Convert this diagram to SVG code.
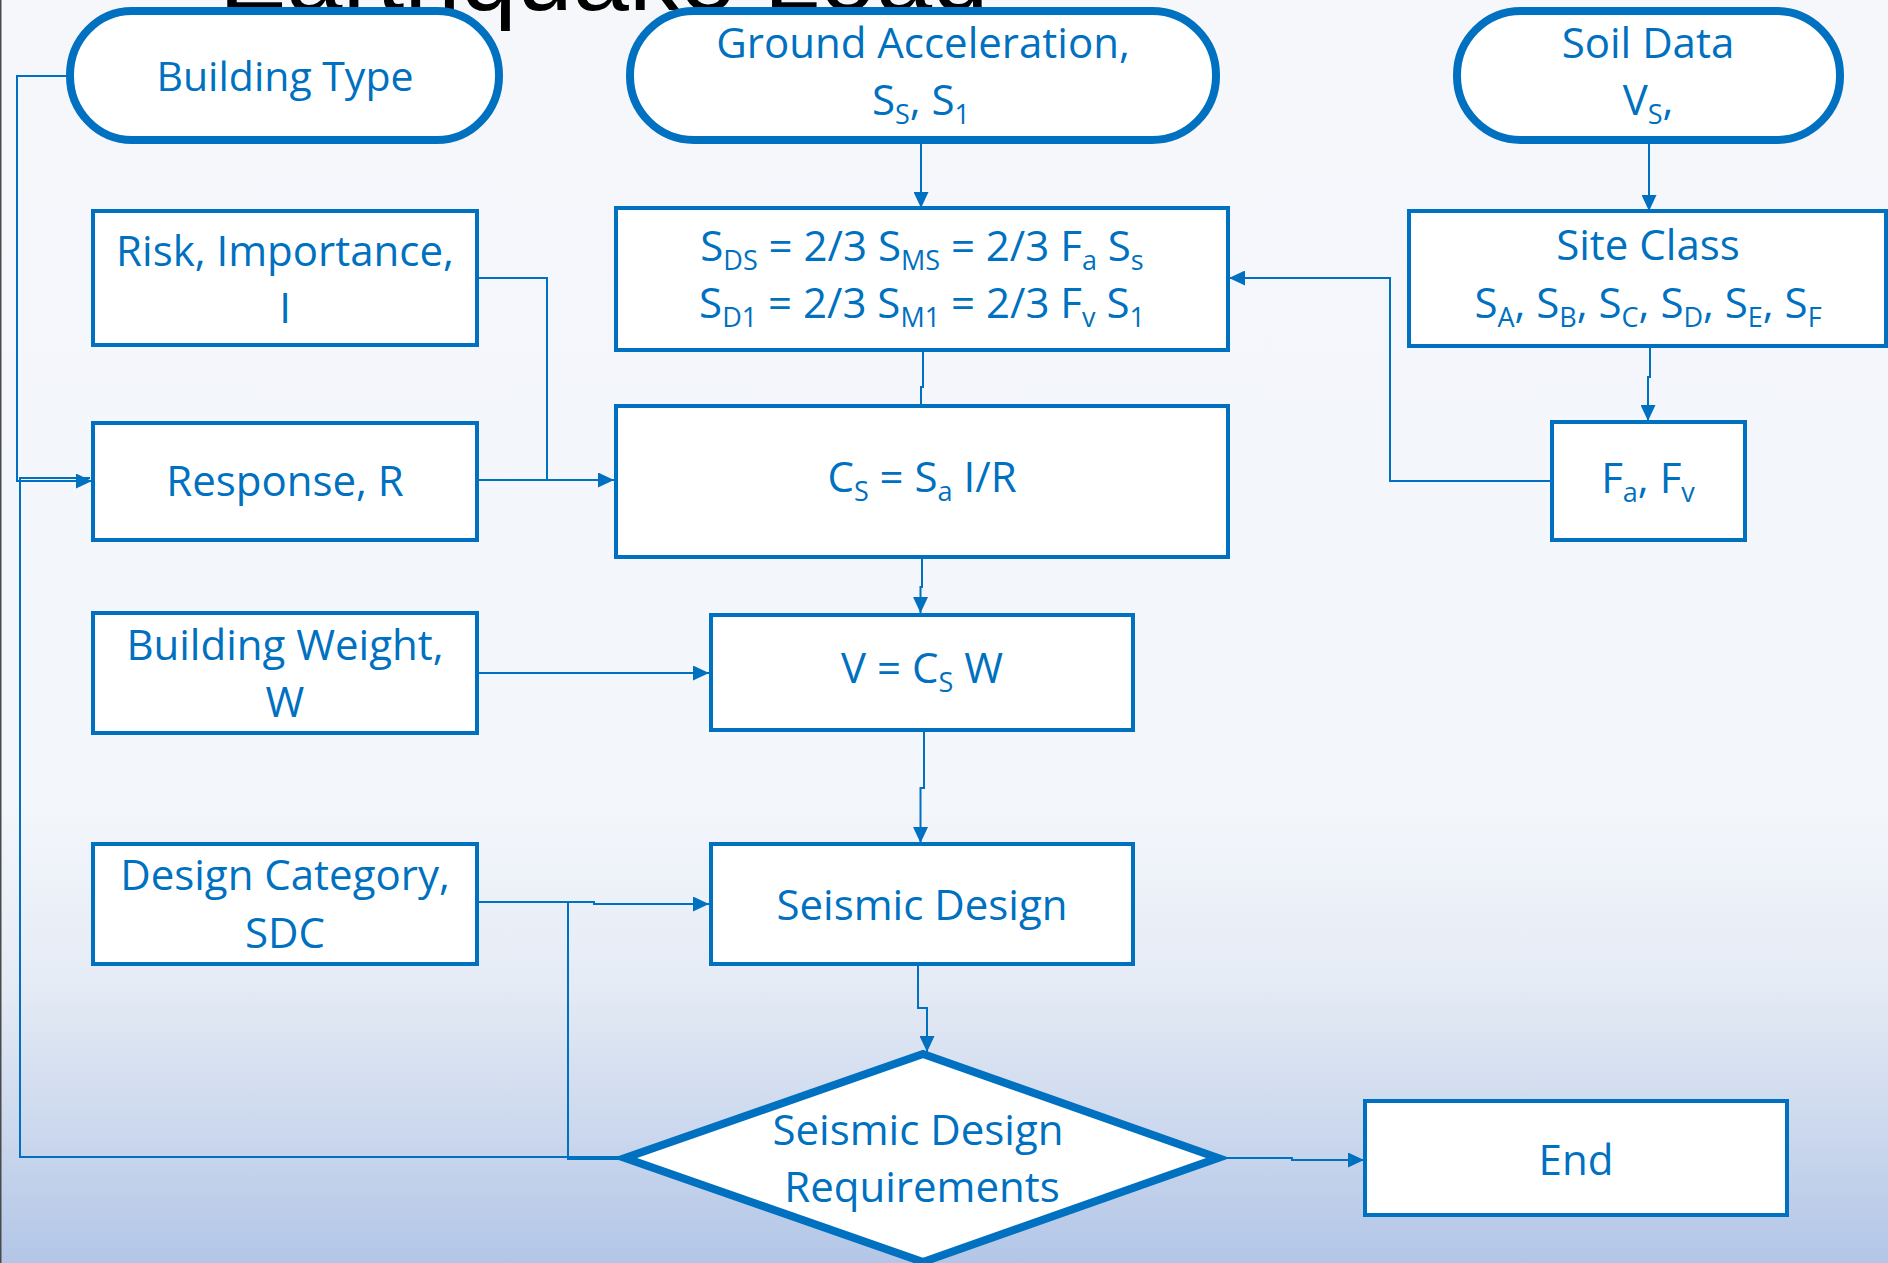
<svg xmlns="http://www.w3.org/2000/svg" width="1888" height="1263" viewBox="0 0 1888 1263">
  <defs>
    <linearGradient id="bg" x1="0" y1="0" x2="0" y2="1263" gradientUnits="userSpaceOnUse">
      <stop offset="0" stop-color="#F5F7FB"/>
      <stop offset="0.64" stop-color="#F3F6FB"/>
      <stop offset="0.78" stop-color="#E5EBF5"/>
      <stop offset="0.9" stop-color="#CAD7ED"/>
      <stop offset="1" stop-color="#B3C6E7"/>
    </linearGradient>
    <marker id="arrow" viewBox="0 0 16 15" refX="16" refY="7.5" markerWidth="16" markerHeight="15" markerUnits="userSpaceOnUse" orient="auto">
      <path d="M0,0 L16,7.5 L0,15 Z" fill="#0070C0"/>
    </marker>
  </defs>
  <style>
    .box { fill: #FFFFFF; stroke: #0070C0; stroke-width: 4; }
    .pill { fill: #FFFFFF; stroke: #0070C0; stroke-width: 8; }
    .lbl { font-family: 'Open Sans', 'Noto Sans', sans-serif; font-size: 42px; fill: #0070C0; text-anchor: middle; }
    .sub { font-size: 27px; }
    .conn { fill: none; stroke: #0070C0; stroke-width: 2; }
    .arr { marker-end: url(#arrow); }
  </style>

  <!-- slide background -->
  <rect x="0" y="0" width="1888" height="1263" fill="url(#bg)"/>
  <rect x="0" y="0" width="1.5" height="1263" fill="#4A4A4A"/>

  <!-- slide title, mostly above the top edge -->
  <text x="219" y="10" font-family="'Liberation Sans', Arial, sans-serif" font-size="101" fill="#000000">Earthquake Load</text>

  <!-- connectors -->
  <g id="connectors">
    <path class="conn arr" d="M921,144 V208"/>
    <path class="conn arr" d="M1649,144 V211"/>
    <path class="conn arr" d="M1650,333 V377 H1648 V421"/>
    <path class="conn arr" d="M1552,481 H1390 V278 H1229"/>
    <path class="conn" d="M477,480 H547"/>
    <path class="conn arr" d="M477,278 H547 V480 H614"/>
    <path class="conn arr" d="M923,350 V387 H921 V420"/>
    <path class="conn arr" d="M922,557 V587 H920.5 V613"/>
    <path class="conn arr" d="M477,673 H709"/>
    <path class="conn arr" d="M924,730 V788 H920.5 V843"/>
    <path class="conn arr" d="M477,902 H594 V904 H709"/>
    <path class="conn" d="M568,902 V1159 H623"/>
    <path class="conn arr" d="M918,964 V1008 H927 V1052"/>
    <path class="conn arr" d="M1218,1158 H1292 V1160 H1364"/>
    <path class="conn" d="M623,1157 H20 V478 H90"/>
    <path class="conn arr" d="M66,76 H17 V481 H92"/>
  </g>

  <!-- start terminals -->
  <g id="building-type">
    <rect class="pill" x="70" y="11" width="429" height="129" rx="62" ry="64"/>
    <text class="lbl" x="285" y="91" style="font-size:41px">Building Type</text>
  </g>
  <g id="ground-acceleration">
    <rect class="pill" x="630" y="11" width="586" height="129" rx="64" ry="64"/>
    <text class="lbl" x="923" y="58">Ground Acceleration,</text>
    <text class="lbl" x="921" y="115">S<tspan class="sub" dy="9">S</tspan><tspan dy="-9">, S</tspan><tspan class="sub" dy="9">1</tspan></text>
  </g>
  <g id="soil-data">
    <rect class="pill" x="1457" y="11" width="383" height="129" rx="64" ry="64"/>
    <text class="lbl" x="1648" y="58">Soil Data</text>
    <text class="lbl" x="1648" y="115">V<tspan class="sub" dy="9">S</tspan><tspan dy="-9">,</tspan></text>
  </g>

  <!-- left-hand inputs -->
  <g id="risk-importance">
    <rect class="box" x="93" y="211" width="384" height="134"/>
    <text class="lbl" x="285" y="266">Risk, Importance,</text>
    <text class="lbl" x="285" y="323">I</text>
  </g>
  <g id="response">
    <rect class="box" x="93" y="423" width="384" height="117"/>
    <text class="lbl" x="285" y="496">Response, R</text>
  </g>
  <g id="building-weight">
    <rect class="box" x="93" y="613" width="384" height="120"/>
    <text class="lbl" x="285" y="660">Building Weight,</text>
    <text class="lbl" x="285" y="717">W</text>
  </g>
  <g id="design-category">
    <rect class="box" x="93" y="844" width="384" height="120"/>
    <text class="lbl" x="285" y="890">Design Category,</text>
    <text class="lbl" x="285" y="948">SDC</text>
  </g>

  <!-- main calculation column -->
  <g id="design-spectral">
    <rect class="box" x="616" y="208" width="612" height="142"/>
    <text class="lbl" x="922" y="261">S<tspan class="sub" dy="9">DS</tspan><tspan dy="-9"> = 2/3 S</tspan><tspan class="sub" dy="9">MS</tspan><tspan dy="-9"> = 2/3 F</tspan><tspan class="sub" dy="9">a</tspan><tspan dy="-9"> S</tspan><tspan class="sub" dy="9">s</tspan></text>
    <text class="lbl" x="922" y="318">S<tspan class="sub" dy="9">D1</tspan><tspan dy="-9"> = 2/3 S</tspan><tspan class="sub" dy="9">M1</tspan><tspan dy="-9"> = 2/3 F</tspan><tspan class="sub" dy="9">v</tspan><tspan dy="-9"> S</tspan><tspan class="sub" dy="9">1</tspan></text>
  </g>
  <g id="seismic-coefficient">
    <rect class="box" x="616" y="406" width="612" height="151"/>
    <text class="lbl" x="922" y="492">C<tspan class="sub" dy="9">S</tspan><tspan dy="-9"> = S</tspan><tspan class="sub" dy="9">a</tspan><tspan dy="-9"> I/R</tspan></text>
  </g>
  <g id="base-shear">
    <rect class="box" x="711" y="615" width="422" height="115"/>
    <text class="lbl" x="922" y="683">V = C<tspan class="sub" dy="9">S</tspan><tspan dy="-9"> W</tspan></text>
  </g>
  <g id="seismic-design">
    <rect class="box" x="711" y="844" width="422" height="120"/>
    <text class="lbl" x="922" y="920">Seismic Design</text>
  </g>

  <!-- soil branch -->
  <g id="site-class">
    <rect class="box" x="1409" y="211" width="477" height="135"/>
    <text class="lbl" x="1648" y="260">Site Class</text>
    <text class="lbl" x="1648" y="318">S<tspan class="sub" dy="9">A</tspan><tspan dy="-9">, S</tspan><tspan class="sub" dy="9">B</tspan><tspan dy="-9">, S</tspan><tspan class="sub" dy="9">C</tspan><tspan dy="-9">, S</tspan><tspan class="sub" dy="9">D</tspan><tspan dy="-9">, S</tspan><tspan class="sub" dy="9">E</tspan><tspan dy="-9">, S</tspan><tspan class="sub" dy="9">F</tspan></text>
  </g>
  <g id="site-coefficients">
    <rect class="box" x="1552" y="422" width="193" height="118"/>
    <text class="lbl" x="1648" y="493">F<tspan class="sub" dy="9">a</tspan><tspan dy="-9">, F</tspan><tspan class="sub" dy="9">v</tspan></text>
  </g>

  <!-- decision and end -->
  <g id="design-requirements">
    <polygon class="pill" points="923,1054 1218,1158 923,1262 625,1158"/>
    <text class="lbl" x="918" y="1145">Seismic Design</text>
    <text class="lbl" x="922" y="1202">Requirements</text>
  </g>
  <g id="end">
    <rect class="box" x="1365" y="1101" width="422" height="114"/>
    <text class="lbl" x="1576" y="1175">End</text>
  </g>
</svg>
